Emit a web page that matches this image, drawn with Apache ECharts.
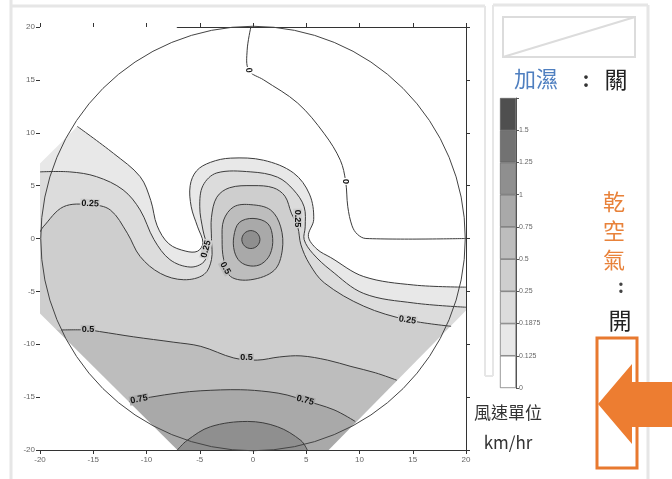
<!DOCTYPE html>
<html>
<head>
<meta charset="utf-8">
<script src="https://cdn.jsdelivr.net/npm/echarts@6/dist/echarts.min.js"></script>
<style>html,body{margin:0;background:#fff}#main{width:672px;height:479px}</style>
</head>
<body>
<div id="main"></div>
<script>
// 風速等值線 (km/hr), 座標 -20..20
var cbLabels = ['0', '0.125', '0.1875', '0.25', '0.5', '0.75', '1', '1.25', '1.5', ''];
var cbColors = ['#ffffff', '#e8e8e8', '#dcdcdc', '#cecece', '#bdbdbd', '#a9a9a9', '#8f8f8f', '#727272', '#4f4f4f'];

var line0 = [[-0.2, 20], [-0.55, 17.8], [-0.4, 15.9], [1.0, 15.0], [4.2, 12.8], [6.7, 9.9], [8.2, 7.4], [8.7, 5.4],
    [8.9, 3.0], [9.3, 1.2], [9.8, 0.4], [10.6, 0], [20, 0]];
var line0125 = [[-16.5, 10.6], [-13.1, 8.05], [-10.6, 5.85], [-9.6, 3.6], [-9.0, 1.2], [-7.9, -0.5], [-6.3, -1.2],
    [-5.2, -1.2], [-4.7, -0.4], [-5.2, 1.1], [-5.8, 3.0], [-5.9, 5.0], [-5.3, 6.4], [-4.0, 7.2], [-2.1, 7.6], [1.0, 7.4],
    [3.8, 6.2], [5.3, 4.2], [5.7, 1.8], [5.2, 0.2], [6.0, -1.0], [7.3, -1.8], [10.4, -3.6], [15.1, -4.4], [20, -4.6]];
var line01875 = [[-20, 6.3], [-17.2, 6.3], [-14.7, 5.85], [-12.2, 4.6], [-10.6, 2.7], [-9.3, -0.1], [-7.8, -2.0],
    [-5.9, -2.7], [-4.6, -2.2], [-4.3, -1.0], [-4.7, 0.8], [-5.0, 3.0], [-4.7, 5.0], [-3.4, 6.2], [-0.2, 6.3], [2.3, 5.8],
    [3.8, 4.6], [4.8, 3.0], [4.9, 1.1], [4.8, -0.1], [5.6, -1.4], [7.3, -3.0], [10.4, -5.2], [15.1, -6.1], [20, -6.5]];
var line025 = [[-20, 0.6], [-19.7, 1.1], [-17.8, 3.0], [-15.3, 3.2], [-13.4, 2.7], [-11.8, 0.5], [-10.6, -1.7],
    [-8.7, -3.3], [-6.5, -3.9], [-4.6, -3.4], [-3.9, -2.0], [-3.9, 0.0], [-3.9, 2.0], [-3.4, 3.9], [-2.2, 4.8], [0, 5.0],
    [1.9, 4.8], [3.0, 4.0], [3.6, 2.4], [4.2, 1.1], [4.5, -0.6], [5.3, -2.4], [6.7, -4.2], [10.4, -6.4], [14.5, -7.7], [18.6, -8.3]];
var ring05 = [[-0.2, 3.2], [1.65, 2.7], [2.6, 1.1], [2.75, -1.1], [2.0, -3.0], [-0.2, -3.9], [-2.1, -3.6],
    [-2.75, -2.0], [-2.9, -0.1], [-2.75, 1.75], [-1.8, 3.0]];
var line05 = [[-18, -8.65], [-15.5, -8.65], [-14.4, -8.8], [-11.2, -9.3], [-7.5, -9.8], [-4.9, -10.2], [-1.8, -11.3],
    [0.4, -11.5], [2.5, -11.2], [4.5, -11.1], [7, -11.5], [9.2, -12.1], [11.5, -12.7], [13.5, -13.4]];
var ring075 = [[0, 1.9], [1.4, 1.4], [1.85, 0], [1.6, -1.5], [0.8, -2.4], [-0.2, -2.6], [-1.2, -2.2], [-1.75, -1.2],
    [-1.8, 0.2], [-1.3, 1.5]];
var line075 = [[-11.6, -15.4], [-9.6, -15.0], [-7, -14.6], [-4.9, -14.4], [-1.2, -14.3], [1.5, -14.5], [3.2, -14.8],
    [4.8, -15.3], [7.6, -16.2], [9.6, -17.3]];
var core1 = [[-0.2, 0.75], [0.4, 0.5], [0.65, -0.1], [0.4, -0.7], [-0.2, -0.95], [-0.8, -0.7], [-1.05, -0.1], [-0.8, 0.5]];
var dome1 = [[-7.1, -20], [-6.2, -19.1], [-4.0, -17.8], [-0.5, -17.3], [2.3, -17.8], [4.5, -19.1], [5.1, -20]];

// 資料範圍外 (凸包) 以白色遮住
var maskBL = [[-22, -5.1], [-5.1, -22], [-22, -22]];
var maskBR = [[5.15, -22], [20, -6.8], [22, -6.8], [22, -22]];
var maskTL = [[-22, 5.1], [-5.1, 22], [-22, 22]];

// 等值線標籤: x, y, 文字, 角度
var contourLabels = [
    [-0.4, 15.9, '0', -85], [8.7, 5.4, '0', -90],
    [-15.3, 3.3, '0.25', -3], [-4.4, -1.0, '0.25', 75], [4.2, 1.9, '0.25', -90], [14.5, -7.7, '0.25', -8],
    [-2.6, -2.8, '0.5', -60], [-15.5, -8.6, '0.5', 0], [-0.6, -11.3, '0.5', 0],
    [-10.7, -15.2, '0.75', 12], [4.9, -15.3, '0.75', -15]
];

var SM = 0.35;
var lineColor = '#3c3c3c';

function polySeries(pts, fill, stroke, z) {
    return {
        type: 'custom', coordinateSystem: 'cartesian2d', xAxisIndex: 0, yAxisIndex: 0,
        clip: true, silent: true, z: z,
        data: pts, encode: {x: 0, y: 1},
        renderItem: function (params, api) {
            if (params.dataIndex !== 0) return;
            var p = pts.map(function (d) { return api.coord(d); });
            return {
                type: 'polygon', shape: {points: p, smooth: SM},
                style: {fill: fill, stroke: stroke || null, lineWidth: 1}
            };
        }
    };
}

function maskSeries(pts) {
    return {
        type: 'custom', coordinateSystem: 'cartesian2d', xAxisIndex: 0, yAxisIndex: 0,
        clip: true, silent: true, z: 7,
        data: pts, encode: {x: 0, y: 1},
        renderItem: function (params, api) {
            if (params.dataIndex !== 0) return;
            var p = pts.map(function (d) { return api.coord(d); });
            return {type: 'polygon', shape: {points: p}, style: {fill: '#fff'}};
        }
    };
}

function lineSeries(pts) {
    return {
        type: 'custom', coordinateSystem: 'cartesian2d', xAxisIndex: 0, yAxisIndex: 0,
        clip: true, silent: true, z: 8,
        data: pts, encode: {x: 0, y: 1},
        renderItem: function (params, api) {
            if (params.dataIndex !== 0) return;
            var p = pts.map(function (d) { return api.coord(d); });
            return {
                type: 'polyline', shape: {points: p, smooth: SM},
                style: {fill: 'none', stroke: lineColor, lineWidth: 1}
            };
        }
    };
}

var series = [
    polySeries([[-21, 14]].concat(line0125, [[21, -4.6], [22, -22], [-22, -22], [-22, 14]]), cbColors[1], null, 1),
    polySeries([[-22, 6.3]].concat(line01875, [[22, -6.6], [22, -22], [-22, -22]]), cbColors[2], null, 2),
    polySeries([[-22, 0.3]].concat(line025, [[20.5, -8.6], [22, -8.7], [22, -22], [-22, -22]]), cbColors[3], null, 3),
    polySeries([[-22, -8.6]].concat(line05, [[16, -14.3], [22, -16], [22, -22], [-22, -22]]), cbColors[4], null, 4),
    polySeries([[-14, -16]].concat(line075, [[11.5, -18.8], [13, -22], [-16, -22]]), cbColors[5], null, 5),
    polySeries([[-8, -21]].concat(dome1, [[5.8, -21.5]]), cbColors[6], null, 6),
    maskSeries(maskBL), maskSeries(maskBR), maskSeries(maskTL),
    lineSeries(line0), lineSeries(line0125), lineSeries(line01875), lineSeries(line025),
    lineSeries(line05), lineSeries(line075), lineSeries(dome1),
    polySeries(ring05, cbColors[4], lineColor, 9),
    polySeries(ring075, cbColors[5], lineColor, 10),
    polySeries(core1, cbColors[6], lineColor, 11),
    {
        // 外圓
        type: 'custom', coordinateSystem: 'cartesian2d', xAxisIndex: 0, yAxisIndex: 0,
        clip: false, silent: true, z: 12, data: [[0, 0]], encode: {x: 0, y: 1},
        renderItem: function (params, api) {
            var c = api.coord([0, 0]);
            var r = api.size([20, 20]);
            return {type: 'circle', shape: {cx: c[0], cy: c[1], r: (r[0] + r[1]) / 2},
                style: {fill: 'none', stroke: '#444', lineWidth: 1}};
        }
    },
    {
        type: 'custom', coordinateSystem: 'cartesian2d', xAxisIndex: 0, yAxisIndex: 0,
        clip: true, silent: true, z: 13,
        data: contourLabels.map(function (l) { return [l[0], l[1]]; }), encode: {x: 0, y: 1},
        renderItem: function (params, api) {
            var l = contourLabels[params.dataIndex];
            var p = api.coord([l[0], l[1]]);
            var bg = {'0': '#fff', '0.25': cbColors[3], '0.5': cbColors[4], '0.75': cbColors[5]}[l[2]];
            return {
                type: 'text', x: p[0], y: p[1], rotation: l[3] * Math.PI / 180,
                style: {text: l[2], fill: '#111', font: 'bold 9px "Liberation Sans", sans-serif',
                    align: 'center', verticalAlign: 'middle', textAlign: 'center', textVerticalAlign: 'middle',
                    backgroundColor: bg, padding: [0, 1]}
            };
        }
    }
];

// 色階 (右側)
cbColors.forEach(function (c) {
    series.push({
        type: 'bar', xAxisIndex: 2, yAxisIndex: 2, stack: 'cb', data: [1], barWidth: '100%', silent: true,
        itemStyle: {color: c, borderColor: '#555', borderWidth: 0.6}
    });
});

var axisText = {fontSize: 8, color: '#666', fontFamily: 'Liberation Sans'};
var axisLn = {onZero: false, lineStyle: {color: '#333', width: 1}};
var tick = {length: 4, lineStyle: {color: '#333'}};

var chart = echarts.init(document.getElementById('main'));
chart.setOption({
    animation: false,
    backgroundColor: '#fff',
    grid: [
        {left: 40, right: 206, top: 27, bottom: 29},
        {left: 500, top: 98, width: 16, height: 290}
    ],
    xAxis: [
        {gridIndex: 0, type: 'value', min: -20, max: 20, interval: 5, position: 'bottom',
            axisLine: axisLn, axisTick: tick, axisLabel: Object.assign({margin: 6}, axisText), splitLine: {show: false}},
        {gridIndex: 0, type: 'value', min: -20, max: 20, interval: 5, position: 'top',
            axisLine: axisLn, axisTick: tick, axisLabel: {show: false}, splitLine: {show: false}},
        {gridIndex: 1, type: 'category', data: [''], show: false}
    ],
    yAxis: [
        {gridIndex: 0, type: 'value', min: -20, max: 20, interval: 5, position: 'left',
            axisLine: axisLn, axisTick: tick, axisLabel: Object.assign({margin: 5}, axisText), splitLine: {show: false}},
        {gridIndex: 0, type: 'value', min: -20, max: 20, interval: 5, position: 'right',
            axisLine: axisLn, axisTick: tick, axisLabel: {show: false}, splitLine: {show: false}},
        {gridIndex: 1, type: 'value', min: 0, max: 9, interval: 1, position: 'right',
            axisLine: {show: true, onZero: false, lineStyle: {color: '#555'}}, axisTick: {show: true, length: 3, lineStyle: {color: '#555'}},
            splitLine: {show: false},
            axisLabel: {fontSize: 7, color: '#666', margin: 3, fontFamily: 'Liberation Sans',
                formatter: function (v) { return cbLabels[v]; }}}
    ],
    graphic: [
        // 面板框線
        {type: 'line', shape: {x1: 11, y1: 0, x2: 11, y2: 479}, style: {stroke: '#e6e6e6', lineWidth: 3}},
        {type: 'line', shape: {x1: 11, y1: 6, x2: 485, y2: 6}, style: {stroke: '#e6e6e6', lineWidth: 3}},
        {type: 'line', shape: {x1: 485, y1: 6, x2: 485, y2: 376}, style: {stroke: '#e6e6e6', lineWidth: 2}},
        {type: 'line', shape: {x1: 493, y1: 5, x2: 493, y2: 376}, style: {stroke: '#e6e6e6', lineWidth: 2}},
        {type: 'line', shape: {x1: 485, y1: 376, x2: 493, y2: 376}, style: {stroke: '#e6e6e6', lineWidth: 2}},
        {type: 'line', shape: {x1: 493, y1: 5, x2: 648, y2: 5}, style: {stroke: '#e6e6e6', lineWidth: 3}},
        {type: 'line', shape: {x1: 648, y1: 5, x2: 648, y2: 479}, style: {stroke: '#e6e6e6', lineWidth: 3}},
        {type: 'rect', shape: {x: 503, y: 17, width: 132, height: 40}, style: {fill: 'none', stroke: '#dcdcdc', lineWidth: 2}},
        {type: 'line', shape: {x1: 503, y1: 57, x2: 635, y2: 17}, style: {stroke: '#dcdcdc', lineWidth: 2}},
        // 文字
        {type: 'text', x: 514, y: 79, style: {text: '加濕', fill: '#4f7fc0', font: '22px "Noto Sans CJK TC"', verticalAlign: 'middle', textVerticalAlign: 'middle'}},
        {type: 'text', x: 586, y: 79, style: {text: ':', fill: '#333', font: 'bold 20px "Noto Sans CJK TC"', align: 'center', verticalAlign: 'middle', textAlign: 'center', textVerticalAlign: 'middle'}},
        {type: 'text', x: 616, y: 79, style: {text: '關', fill: '#222', font: '23px "Noto Sans CJK TC"', align: 'center', verticalAlign: 'middle', textAlign: 'center', textVerticalAlign: 'middle'}},
        {type: 'text', x: 614, y: 202, style: {text: '乾', fill: '#e8823a', font: '22px "Noto Sans CJK TC"', align: 'center', verticalAlign: 'middle', textAlign: 'center', textVerticalAlign: 'middle'}},
        {type: 'text', x: 614, y: 231, style: {text: '空', fill: '#e8823a', font: '22px "Noto Sans CJK TC"', align: 'center', verticalAlign: 'middle', textAlign: 'center', textVerticalAlign: 'middle'}},
        {type: 'text', x: 614, y: 260, style: {text: '氣', fill: '#e8823a', font: '22px "Noto Sans CJK TC"', align: 'center', verticalAlign: 'middle', textAlign: 'center', textVerticalAlign: 'middle'}},
        {type: 'text', x: 621, y: 286, style: {text: ':', fill: '#444', font: 'bold 18px "Noto Sans CJK TC"', align: 'center', verticalAlign: 'middle', textAlign: 'center', textVerticalAlign: 'middle'}},
        {type: 'text', x: 620, y: 320, style: {text: '開', fill: '#222', font: '23px "Noto Sans CJK TC"', align: 'center', verticalAlign: 'middle', textAlign: 'center', textVerticalAlign: 'middle'}},
        {type: 'text', x: 508, y: 413, style: {text: '風速單位', fill: '#333', font: '17px "Noto Sans CJK TC"', align: 'center', verticalAlign: 'middle', textAlign: 'center', textVerticalAlign: 'middle'}},
        {type: 'text', x: 508, y: 443, style: {text: 'km/hr', fill: '#333', font: '17px "Noto Sans CJK TC"', align: 'center', verticalAlign: 'middle', textAlign: 'center', textVerticalAlign: 'middle'}},
        // 橘色框與箭頭
        {type: 'rect', shape: {x: 597, y: 338, width: 40, height: 130}, style: {fill: 'none', stroke: '#e8792f', lineWidth: 3}},
        {type: 'polygon', shape: {points: [[598, 404], [632, 364], [632, 382], [672, 382], [672, 427], [632, 427], [632, 444]]},
            style: {fill: '#ed7d31'}}
    ],
    series: series
});
</script>
</body>
</html>
